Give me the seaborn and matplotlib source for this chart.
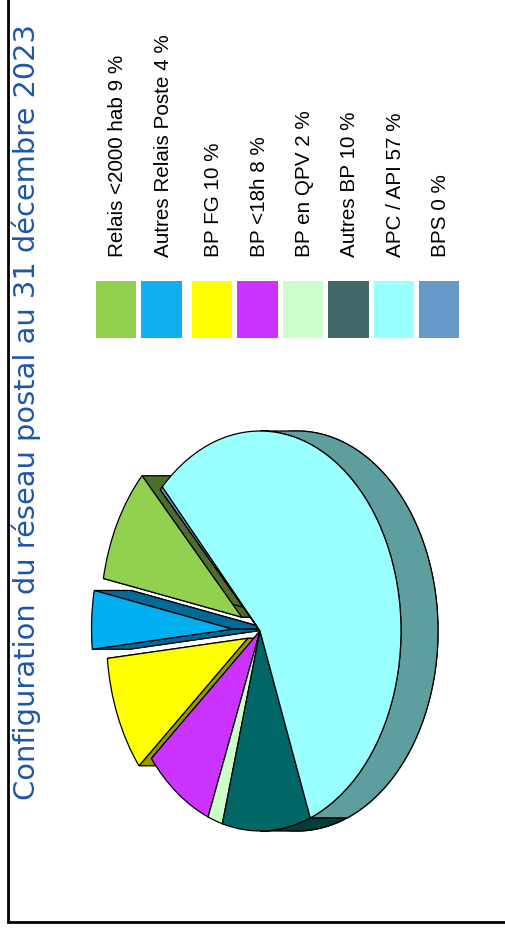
import numpy as np
import seaborn as sns
import matplotlib.pyplot as plt
from matplotlib.patches import Polygon, Rectangle

labels = ["Relais <2000 hab 9 %", "Autres Relais Poste 4 %", "BP FG 10 %", "BP <18h 8 %",
          "BP en QPV 2 %", "Autres BP 10 %", "APC / API 57 %", "BPS 0 %"]
# shares, a bit finer than the rounded labels
shares = [9.4, 4.7, 9.4, 8.0, 1.7, 10.1, 56.4, 0.3]
explode = [0.147, 0.195, 0.095, 0, 0, 0, 0, 0]
top_colors = ["#92D050", "#00B0F0", "#FFFF00", "#CC33FF", "#CCFFCC", "#006666", "#99FFFF", "#6699CC"]
side_colors = ["#4D6E2A", "#006B99", "#999900", "#7A1F99", "#7A997A", "#003E3E", "#5F9E9E", "#3D5C7A"]
legend_colors = ["#92D050", "#0FAFF0", "#FFFF00", "#CC33FF", "#CCFFCC", "#406868", "#99FFFF", "#6699C8"]
title = "Configuration du réseau postal au 31 décembre 2023"

# layout in pixels of the 505x937 picture
W, H = 505, 937
CX, CY, RX, RY = 260, 632, 141, 200
DEPTH = 37 / RX
swatch_x = [96, 141.3, 192, 237.3, 283, 328.3, 373.7, 419]
label_x = [123, 169, 219.3, 264.7, 310, 355.3, 401, 446]

sns.set_theme(style="white")
plt.rcParams["font.family"] = ["Liberation Sans", "DejaVu Sans"]

fig = plt.figure(figsize=(W / 100, H / 100), dpi=100)
ax = fig.add_axes([0, 0, 1, 1])

wedges, _ = ax.pie(
    shares, explode=explode, colors=sns.color_palette(top_colors), startangle=135,
    counterclock=True, wedgeprops={"edgecolor": "black", "linewidth": 0.9, "zorder": 5},
)
# stretch the unit pie into the tall ellipse
ax.set_aspect("auto")
ax.set_xlim(-CX / RX, (W - CX) / RX)
ax.set_ylim((CY - H) / RY, CY / RY)

line = {"edgecolor": "black", "linewidth": 0.9}


def arc(w, t):
    return np.column_stack([w.center[0] + w.r * np.cos(t), w.center[1] + w.r * np.sin(t)])


# side of the 3D pie: everything is the top face pushed along +x
for w, dark in zip(wedges, side_colors):
    t = np.radians(np.linspace(w.theta1, w.theta2, 300))
    shift = np.array([DEPTH, 0])
    c = np.array(w.center)
    pts = arc(w, t)
    ax.add_patch(Polygon(np.vstack([c + shift, pts + shift]), facecolor=dark, zorder=1, **line))
    for p in (pts[0], pts[-1]):
        ax.add_patch(Polygon([c, p, p + shift, c + shift], facecolor=dark, zorder=2, **line))
    front = pts[np.cos(t) >= 0]
    if len(front):
        ax.add_patch(Polygon(np.vstack([front, front[::-1] + shift]), facecolor=dark, zorder=3, **line))

# overlay in pixel coordinates for the frame, title and legend
over = fig.add_axes([0, 0, 1, 1], facecolor="none")
over.set_xlim(0, W)
over.set_ylim(H, 0)
over.axis("off")

over.plot([8, 8, W], [0, 923, 923], color="black", lw=2.0, solid_joinstyle="miter")
over.text(35, 800, title, rotation=90, rotation_mode="anchor", ha="left", va="baseline",
          color="#1F56A5", fontsize=20.8, family="DejaVu Sans")

for x, tx, color, label in zip(swatch_x, label_x, legend_colors, labels):
    over.add_patch(Rectangle((x, 281.5), 40.3, 57, facecolor=color, edgecolor="none"))
    over.text(tx, 257.5, label, rotation=90, rotation_mode="anchor", ha="left", va="baseline",
              color="black", fontsize=14.9)

fig.savefig("out.png", dpi=100)
